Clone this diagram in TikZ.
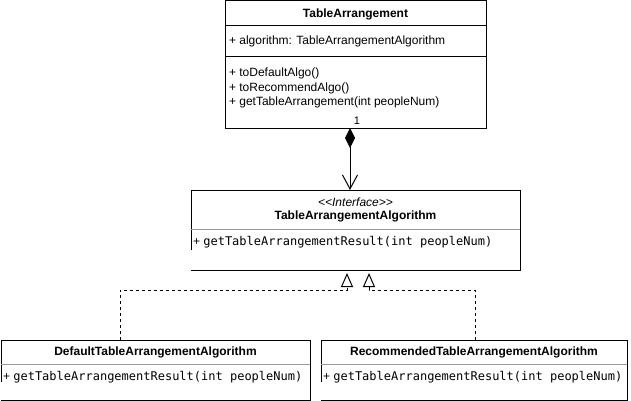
\documentclass[tikz,border=0pt]{standalone}
\usepackage{fontspec}
\setmainfont{Liberation Sans}
\setmonofont{DejaVu Sans Mono}
\usetikzlibrary{arrows.meta}

\begin{document}
\fontsize{12}{14}\selectfont
\begin{tikzpicture}[x=1pt,y=-1pt,line width=1pt,
  every node/.style={inner sep=0pt,outer sep=0pt},
  classbox/.style={minimum width=#1},
  sep/.style={black!40},
  comp/.style={{Diamond[length=20pt,width=10pt]}-{Straight Barb[length=14pt,width=15pt]}},
  impl/.style={dash pattern=on 3pt off 3pt,-{Triangle[open,length=14pt,width=12pt]}}]
\useasboundingbox (0,0) rectangle (631,401);

% TableArrangement
\node[classbox=261pt,minimum height=127pt,draw] (ta) at (355.5,64.5) {};
\draw (ta.west |- 0,26) -- (ta.east |- 0,26);
\draw (ta.west |- 0,57) -- (ta.east |- 0,57);
\node[font=\bfseries] (tatitle) at (355.5,14) {TableArrangement};
\node[anchor=west] (taattr) at (229,41) {+ algorithm: TableArrangementAlgorithm};
\node[anchor=west] (taop1) at (229,73) {+ toDefaultAlgo()};
\node[anchor=west] (taop2) at (229,88) {+ toRecommendAlgo()};
\node[anchor=west] (taop3) at (229,102) {+ getTableArrangement(int peopleNum)};
\node[font=\fontsize{11}{13}\selectfont] (mult) at (357,121) {1};

% TableArrangementAlgorithm
\node[classbox=329pt,minimum height=80pt] (taa) at (355.5,230) {};
\draw ([yshift=20pt]taa.south west) -- (taa.north west) -- (taa.north east)
  -- (taa.south east) -- (taa.south west);
\draw[sep] (taa.west |- 0,229) -- (taa.east |- 0,229);
\node[font=\itshape] (stereo) at (355.5,202) {{<}{<}Interface{>}{>}};
\node[font=\bfseries] (taatitle) at (355.5,216) {TableArrangementAlgorithm};
\node[anchor=west] (taaop) at (193,242) {+\ \texttt{getTableArrangementResult(int peopleNum)}};

% DefaultTableArrangementAlgorithm
\node[classbox=309pt,minimum height=60pt] (dta) at (155.5,370) {};
\draw ([yshift=18pt]dta.south west) -- (dta.north west) -- (dta.north east)
  -- (dta.south east) -- (dta.south west);
\draw[sep] (dta.west |- 0,364) -- (dta.east |- 0,364);
\node[font=\bfseries] (dtatitle) at (155.5,352) {DefaultTableArrangementAlgorithm};
\node[anchor=west] (dtaop) at (3,377) {+\ \texttt{getTableArrangementResult(int peopleNum)}};

% RecommendedTableArrangementAlgorithm
\node[classbox=306pt,minimum height=60pt] (rta) at (474,370) {};
\draw ([yshift=18pt]rta.south west) -- (rta.north west) -- (rta.north east)
  -- (rta.south east) -- (rta.south west);
\draw[sep] (rta.west |- 0,364) -- (rta.east |- 0,364);
\node[font=\bfseries] (rtatitle) at (474,352) {RecommendedTableArrangementAlgorithm};
\node[anchor=west] (rtaop) at (323,377) {+\ \texttt{getTableArrangementResult(int peopleNum)}};

% connectors
\draw[comp] ([xshift=-5.5pt]ta.south) -- ([xshift=-5.5pt]taa.north);
\draw[impl] ([xshift=-35.5pt]dta.north) |- (347,290) -- ([xshift=-8.5pt,yshift=-3pt]taa.south);
\draw[impl] ([xshift=1pt]rta.north) |- (369,290) -- ([xshift=13.5pt,yshift=-3pt]taa.south);
\end{tikzpicture}
\end{document}
